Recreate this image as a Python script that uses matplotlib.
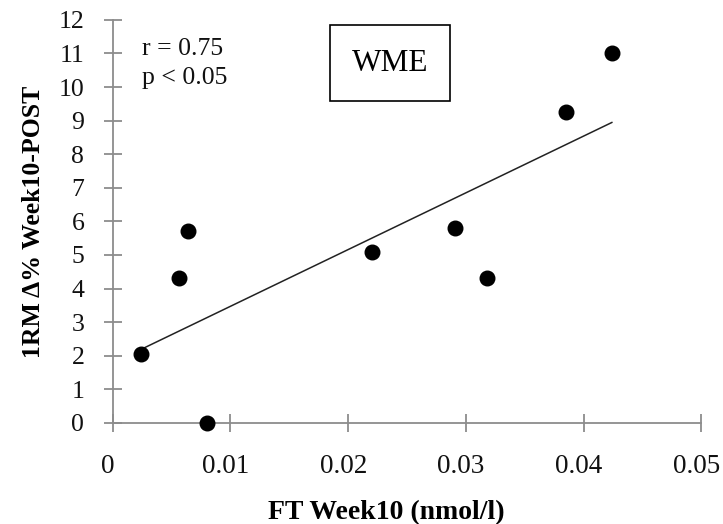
import numpy as np
import matplotlib
matplotlib.use("Agg")
import matplotlib.pyplot as plt
import matplotlib.transforms as mtransforms
from matplotlib.patches import Rectangle

# Data
ft_week10 = [0.0024, 0.0056, 0.0064, 0.0080, 0.0220, 0.0291, 0.0318, 0.0385, 0.0424]
rm_change = [2.05, 4.3, 5.7, 0.0, 5.1, 5.8, 4.3, 9.25, 11.0]
x_ticks = [0, 0.01, 0.02, 0.03, 0.04, 0.05]
x_tick_labels = ["0", "0.01", "0.02", "0.03", "0.04", "0.05"]
y_ticks = list(range(0, 13))
stats_lines = ["r = 0.75", "p < 0.05"]
group_label = "WME"

plt.rcParams["font.family"] = ["Liberation Serif", "DejaVu Serif"]


def main():
    fig = plt.figure(figsize=(7.23, 5.24), dpi=100)
    ax = fig.add_axes([0.156, 0.193, 0.814, 0.769])

    ax.scatter(ft_week10, rm_change, s=110, color="black", zorder=3, clip_on=False)

    # linear trend line over the data range
    slope, intercept = np.polyfit(ft_week10, rm_change, 1)
    xs = np.array([min(ft_week10), max(ft_week10)])
    ax.plot(xs, slope * xs + intercept, color="#222222", lw=1.1)

    ax.set_xlim(0, 0.05)
    ax.set_ylim(0, 12)
    ax.set_xticks(x_ticks)
    ax.set_xticklabels(x_tick_labels)
    ax.set_yticks(y_ticks)

    for side in ["top", "right"]:
        ax.spines[side].set_visible(False)
    for side in ["left", "bottom"]:
        ax.spines[side].set_color("#8c8c8c")
        ax.spines[side].set_linewidth(1.3)
    ax.tick_params(direction="inout", length=13, width=1.3, color="#8c8c8c",
                   labelcolor="#111111")
    ax.tick_params(axis="x", pad=16, labelsize=19.5)
    ax.tick_params(axis="y", pad=14, labelsize=18.5)

    # x tick labels sit a little left of their ticks in the original
    shift = mtransforms.ScaledTranslation(-0.05, 0, fig.dpi_scale_trans)
    for lab in ax.get_xticklabels():
        lab.set_transform(lab.get_transform() + shift)

    ax.set_xlabel("FT Week10 (nmol/l)", fontsize=20, fontweight="bold", labelpad=15)
    ax.xaxis.label.set_x(0.464)
    ax.set_ylabel("1RM Δ% Week10-POST", fontsize=18.5, fontweight="bold", labelpad=10)

    for line, y in zip(stats_lines, [0.928, 0.856]):
        ax.text(0.05, y, line, transform=ax.transAxes, fontsize=18.5,
                va="center", ha="left", color="#111111")

    ax.add_patch(Rectangle((0.369, 0.799), 0.204, 0.189, transform=ax.transAxes,
                           fill=False, edgecolor="black", lw=1.2, clip_on=False))
    ax.text(0.471, 0.893, group_label, transform=ax.transAxes, fontsize=22.5,
            ha="center", va="center")

    fig.savefig("out.png", dpi=100)


if __name__ == "__main__":
    main()
